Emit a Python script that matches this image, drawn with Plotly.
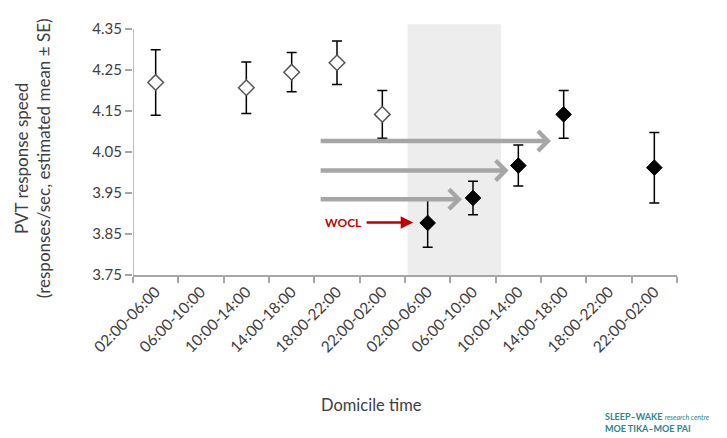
import plotly.graph_objects as go

# ---- data ----
time_labels = ["02:00-06:00", "06:00-10:00", "10:00-14:00", "14:00-18:00",
               "18:00-22:00", "22:00-02:00", "02:00-06:00", "06:00-10:00",
               "10:00-14:00", "14:00-18:00", "18:00-22:00", "22:00-02:00"]
baseline_mean = [4.220, None, 4.207, 4.245, 4.268, 4.142, None, None, None, None, None, None]
baseline_se   = [0.080, None, 0.063, 0.048, 0.053, 0.058, None, None, None, None, None, None]
post_mean     = [None, None, None, None, None, None, 3.877, 3.938, 4.017, 4.142, None, 4.012]
post_se       = [None, None, None, None, None, None, 0.059, 0.041, 0.050, 0.058, None, 0.086]
y_ticks = [3.75, 3.85, 3.95, 4.05, 4.15, 4.25, 4.35]

idx = list(range(len(time_labels)))

AX = "#a6a6a6"
TXT = "#404040"
FONT = "Lato, 'Open Sans', sans-serif"

fig = go.Figure()

fig.add_trace(go.Scatter(
    x=idx, y=baseline_mean, mode="markers",
    error_y=dict(type="data", array=[v if v is not None else 0 for v in baseline_se],
                 color="black", thickness=1.5, width=5),
    marker=dict(symbol="diamond", size=12, color="white",
                line=dict(color="#555555", width=1.5)),
    showlegend=False))

fig.add_trace(go.Scatter(
    x=idx, y=post_mean, mode="markers",
    error_y=dict(type="data", array=[v if v is not None else 0 for v in post_se],
                 color="black", thickness=1.5, width=5),
    marker=dict(symbol="diamond", size=12, color="black",
                line=dict(color="black", width=1)),
    showlegend=False))

shapes = [
    # shaded window
    dict(type="rect", xref="x", yref="y", x0=5.555, x1=7.617, y0=3.75, y1=4.362,
         fillcolor="#ededed", line=dict(width=0), layer="below"),
    # y axis line
    dict(type="line", xref="x", yref="y", x0=-0.5, x1=-0.5, y0=3.75, y1=4.35,
         line=dict(color=AX, width=1.5)),
]

annotations = []
# grey shift arrows
for tip_x, yy in [(8.72, 4.077), (7.785, 4.005), (6.756, 3.935)]:
    annotations.append(dict(x=tip_x, y=yy, ax=3.606, ay=yy, xref="x", yref="y",
                            axref="x", ayref="y", text="", showarrow=True,
                            arrowhead=4, arrowwidth=4.5, arrowsize=0.85,
                            arrowcolor="#a6a6a6"))
# WOCL arrow
annotations.append(dict(x=5.68, y=3.878, ax=4.62, ay=3.878, xref="x", yref="y",
                        axref="x", ayref="y", text="", showarrow=True,
                        arrowhead=2, arrowwidth=2.5, arrowsize=1,
                        arrowcolor="#c00000"))
annotations.append(dict(x=4.6, y=3.878, xref="x", yref="y", text="<b>WOCL</b>",
                        showarrow=False, xanchor="right", yanchor="middle",
                        font=dict(family=FONT, size=12, color="#c00000")))
# y title
annotations.append(dict(x=(32 - 133) / 544, y=4.035, xref="paper", yref="y",
                        text="PVT response speed<br>(responses/sec, estimated mean ± SE)",
                        textangle=-90, showarrow=False, xanchor="center", yanchor="middle",
                        font=dict(family=FONT, size=17, color=TXT)))
# x title
annotations.append(dict(x=(371 - 133) / 544, y=(275 - 405) / 252, xref="paper", yref="paper",
                        text="Domicile time", showarrow=False,
                        xanchor="center", yanchor="middle",
                        font=dict(family=FONT, size=16.5, color=TXT)))
# logo text
annotations.append(dict(x=(603 - 133) / 544, y=(275 - 422) / 252, xref="paper", yref="paper",
                        text="<b>SLEEP–WAKE</b> <i><span style='font-size:7px'>research centre</span></i><br><b>MOE TIKA–MOE PAI</b>",
                        showarrow=False, xanchor="left", yanchor="middle", align="left",
                        font=dict(family=FONT, size=9, color="#2a8590")))

# page body has an 8px default margin, so the figure is 8px smaller and margins shifted
fig.update_layout(
    width=719, height=430,
    margin=dict(l=125, r=50, t=15, b=163, autoexpand=False),
    paper_bgcolor="white", plot_bgcolor="white",
    template="none",
    font=dict(family=FONT, size=13, color=TXT),
    shapes=shapes, annotations=annotations,
    xaxis=dict(range=[-0.5, 11.5], tickmode="array", tickvals=idx, ticktext=time_labels,
               tickangle=-45, ticks="", showline=True, linecolor=AX, linewidth=1.5,
               showgrid=False, zeroline=False, automargin=False,
               tickfont=dict(family=FONT, size=15.5, color=TXT),
               minor=dict(ticks="outside", tickmode="linear", tick0=-0.5, dtick=1,
                          ticklen=6, tickcolor=AX, tickwidth=1.5, showgrid=False)),
    yaxis=dict(range=[3.75, 4.365], tickmode="array", tickvals=y_ticks,
               ticktext=[f"{v:.2f}" for v in y_ticks], ticks="outside", ticklen=7,
               tickcolor=AX, tickwidth=1.5, showline=False, showgrid=False,
               zeroline=False, automargin=False,
               tickfont=dict(family=FONT, size=15, color=TXT)),
)

fig.write_html("out.html")
